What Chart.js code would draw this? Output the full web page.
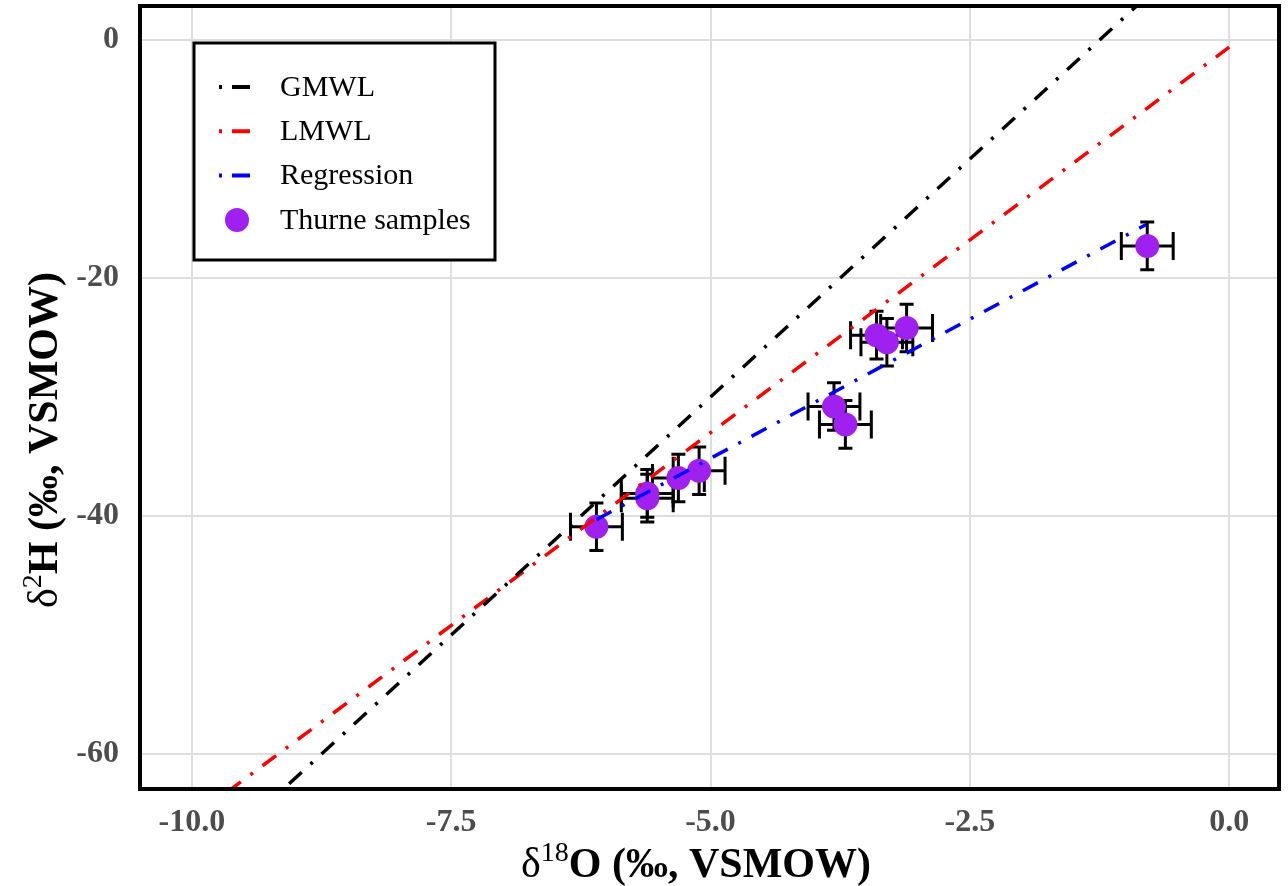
<!DOCTYPE html>
<html><head><meta charset="utf-8">
<script src="https://cdn.jsdelivr.net/npm/chart.js@4.4.1/dist/chart.umd.min.js"></script>
<style>html,body{margin:0;padding:0;background:#fff;overflow:hidden;}</style>
</head><body>
<canvas id="c" width="1288" height="886"></canvas>
<script>
// ---- data ----
const sampleD18O = [-6.10, -5.61, -5.61, -5.31, -5.11, -3.81, -3.70, -3.40, -3.30, -3.11, -0.79];
const sampleD2H  = [-40.9, -38.1, -38.5, -36.8, -36.2, -30.8, -32.3, -24.8, -25.4, -24.2, -17.3];
const errD18O    = [0.25, 0.25, 0.25, 0.25, 0.25, 0.25, 0.25, 0.25, 0.25, 0.25, 0.25];
const errD2H     = [2.0, 2.0, 2.0, 2.0, 2.0, 2.0, 2.0, 2.0, 2.0, 2.0, 2.0];
const gmwlX = [-10, 0];
const gmwlY = [-70, 10];
const lmwlX = [-10, 0];
const lmwlY = [-65.4, -0.6];
const regX  = [-6.10, -0.80];
const regY  = [-40.3, -15.5];
const xTickValues = [-10, -7.5, -5, -2.5, 0];
const yTickValues = [0, -20, -40, -60];
const seriesLabels = ['GMWL', 'LMWL', 'Regression', 'Thurne samples'];

const SERIF = '"Liberation Serif", "Times New Roman", serif';
const DASH = [17, 12, 3, 12];
const toPts = (xs, ys) => xs.map((v, i) => ({x: v, y: ys[i]}));

const errorBars = {
  id: 'errorBars',
  beforeDatasetsDraw(chart) {
    const {ctx, scales: {x, y}} = chart;
    ctx.save();
    ctx.strokeStyle = '#000';
    ctx.lineWidth = 3;
    ctx.lineCap = 'butt';
    for (let i = 0; i < sampleD18O.length; i++) {
      const px = x.getPixelForValue(sampleD18O[i]);
      const py = y.getPixelForValue(sampleD2H[i]);
      const x0 = x.getPixelForValue(sampleD18O[i] - errD18O[i]);
      const x1 = x.getPixelForValue(sampleD18O[i] + errD18O[i]);
      const y0 = y.getPixelForValue(sampleD2H[i] + errD2H[i]);
      const y1 = y.getPixelForValue(sampleD2H[i] - errD2H[i]);
      ctx.beginPath();
      ctx.moveTo(x0, py); ctx.lineTo(x1, py);
      ctx.moveTo(x0, py - 14); ctx.lineTo(x0, py + 14);
      ctx.moveTo(x1, py - 14); ctx.lineTo(x1, py + 14);
      ctx.moveTo(px, y0); ctx.lineTo(px, y1);
      ctx.moveTo(px - 7, y0); ctx.lineTo(px + 7, y0);
      ctx.moveTo(px - 7, y1); ctx.lineTo(px + 7, y1);
      ctx.stroke();
    }
    ctx.restore();
  }
};

function drawMixed(ctx, parts) {
  let w = 0;
  parts.forEach(p => { ctx.font = p.font; p.w = ctx.measureText(p.t).width; w += p.w; });
  let cx = -w / 2;
  parts.forEach(p => {
    ctx.font = p.font;
    ctx.fillText(p.t, cx, p.dy || 0);
    cx += p.w;
  });
}

const frame = {
  id: 'frame',
  afterDraw(chart) {
    const {ctx, chartArea: a} = chart;
    ctx.save();
    // panel border
    ctx.strokeStyle = '#000';
    ctx.lineWidth = 4;
    ctx.strokeRect(a.left, a.top, a.right - a.left, a.bottom - a.top);

    // legend
    const lx = 194, ly = 43, lw = 301, lh = 217;
    ctx.fillStyle = '#fff';
    ctx.fillRect(lx, ly, lw, lh);
    ctx.lineWidth = 3;
    ctx.strokeRect(lx, ly, lw, lh);
    const ds = chart.data.datasets;
    ctx.textBaseline = 'middle';
    ctx.textAlign = 'left';
    ctx.font = '30px ' + SERIF;
    ds.forEach((d, i) => {
      const ry = 87 + i * 44.3;
      if (d.showLine) {
        ctx.strokeStyle = d.borderColor;
        ctx.lineWidth = 4;
        ctx.setLineDash([3, 10, 18, 100]);
        ctx.beginPath(); ctx.moveTo(219, ry); ctx.lineTo(251, ry); ctx.stroke();
        ctx.setLineDash([]);
      } else {
        ctx.fillStyle = d.backgroundColor;
        ctx.beginPath(); ctx.arc(237, ry, 12, 0, Math.PI * 2); ctx.fill();
      }
      ctx.fillStyle = '#000';
      ctx.fillText(d.label, 280, ry + 1);
    });

    // axis titles
    ctx.fillStyle = '#000';
    ctx.textBaseline = 'alphabetic';
    ctx.textAlign = 'left';
    ctx.save();
    ctx.translate(696, 877);
    drawMixed(ctx, [
      {t: 'δ', font: '42px ' + SERIF},
      {t: '18', font: '28px ' + SERIF, dy: -16},
      {t: 'O (‰, VSMOW)', font: 'bold 42px ' + SERIF}
    ]);
    ctx.restore();
    ctx.save();
    ctx.translate(57, 440);
    ctx.rotate(-Math.PI / 2);
    drawMixed(ctx, [
      {t: 'δ', font: '42px ' + SERIF},
      {t: '2', font: '28px ' + SERIF, dy: -16},
      {t: 'H (‰, VSMOW)', font: 'bold 42px ' + SERIF}
    ]);
    ctx.restore();
    ctx.restore();
  }
};

const lineDs = (label, xs, ys, color) => ({
  label, data: toPts(xs, ys), showLine: true, pointRadius: 0, pointHoverRadius: 0,
  borderColor: color, backgroundColor: color, borderWidth: 3.5, borderDash: DASH,
  fill: false, order: 1
});

new Chart(document.getElementById('c'), {
  type: 'scatter',
  data: {
    datasets: [
      lineDs(seriesLabels[0], gmwlX, gmwlY, '#000000'),
      lineDs(seriesLabels[1], lmwlX, lmwlY, '#FF0000'),
      lineDs(seriesLabels[2], regX, regY, '#0000FF'),
      {
        label: seriesLabels[3], data: toPts(sampleD18O, sampleD2H), showLine: false,
        pointRadius: 12, pointHoverRadius: 12, backgroundColor: '#A020F0',
        borderWidth: 0, order: 2
      }
    ]
  },
  options: {
    responsive: false,
    animation: false,
    layout: {autoPadding: false, padding: {top: 6, right: 9, left: 0, bottom: 0}},
    plugins: {legend: {display: false}, tooltip: {enabled: false}},
    scales: {
      x: {
        type: 'linear', min: -10.50, max: 0.48,
        afterBuildTicks: s => { s.ticks = xTickValues.map(v => ({value: v})); },
        afterFit: s => { s.height = 97; s.paddingLeft = 0; s.paddingRight = 0; },
        grid: {color: '#dedede', lineWidth: 2, drawTicks: false},
        border: {display: false},
        ticks: {
          padding: 15, color: '#4d4d4d', maxRotation: 0,
          font: {family: SERIF, size: 32, weight: 'bold'},
          callback: v => v.toFixed(1)
        }
      },
      y: {
        type: 'linear', min: -62.94, max: 2.86,
        afterBuildTicks: s => { s.ticks = yTickValues.map(v => ({value: v})); },
        afterFit: s => { s.width = 140; s.paddingTop = 0; s.paddingBottom = 0; },
        grid: {color: '#dedede', lineWidth: 2, drawTicks: false},
        border: {display: false},
        ticks: {
          padding: 21, color: '#4d4d4d',
          font: {family: SERIF, size: 32, weight: 'bold'},
          callback: v => String(v)
        }
      }
    }
  },
  plugins: [errorBars, frame]
});
</script>
</body></html>
